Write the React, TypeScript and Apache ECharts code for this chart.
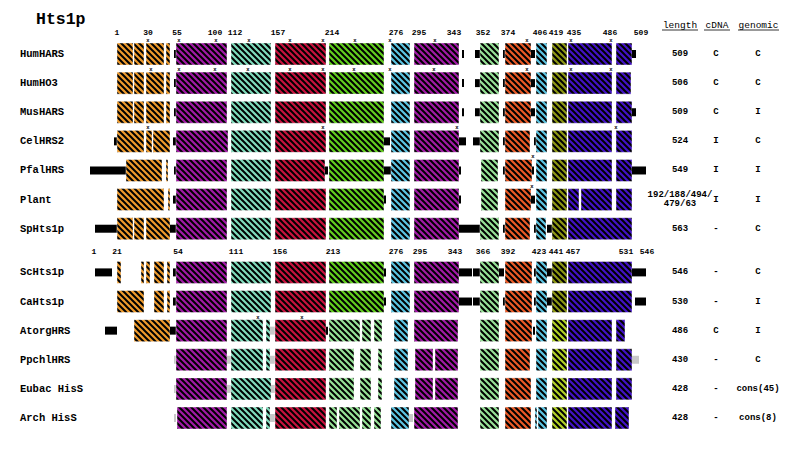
import React, { useEffect, useRef } from "react";
import * as echarts from "echarts";

// ---------- data ----------
const rowNames = ["HumHARS", "HumHO3", "MusHARS", "CelHRS2", "PfalHRS", "Plant", "SpHts1p", "ScHts1p", "CaHts1p", "AtorgHRS", "PpchlHRS", "Eubac HisS", "Arch HisS"];
const rowPos = [0, 1, 2, 3, 4, 5, 6, 7.5, 8.5, 9.5, 10.5, 11.5, 12.5];
const lengths = ["509", "506", "509", "524", "549", "192/188/494/\n479/63", "563", "546", "530", "486", "430", "428", "428"];
const cdna = ["C", "C", "C", "I", "I", "I", "-", "-", "-", "C", "-", "-", "-"];
const genomic = ["C", "C", "I", "C", "I", "I", "C", "C", "I", "I", "C", "cons(45)", "cons(8)"];

// alignment positions of the residue-number labels
const topTickPos = [117, 148, 177, 215, 235, 278, 332, 396, 419, 454, 483, 508, 540, 556, 574, 610, 641];
const topTickLabels = ["1", "30", "55", "100", "112", "157", "214", "276", "295", "343", "352", "374", "406", "419", "435", "486", "509"];
const botTickPos = [94, 117, 178, 236, 280, 333, 396, 420, 455, 483, 508, 539, 556, 573, 626, 647];
const botTickLabels = ["1", "21", "54", "111", "156", "213", "276", "295", "343", "366", "392", "423", "441", "457", "531", "546"];

// domain kinds: O orange, P purple, T teal, R red, G green, C cyan, L light green,
// E orange-red, V olive, Y lime, B blue, K black linker, S gray linker
type Seg = [number, number, string];
const segHumHARS: Seg[] = [[117,133,"O"],[134,144,"O"],[146,164,"O"],[166,170,"O"],[174,176,"K"],[176,227,"P"],[231,271,"T"],[275,326,"R"],[329,384,"G"],[391,410,"C"],[414,459,"P"],[462,464,"K"],[475,480,"K"],[480,499,"L"],[503,505,"K"],[505,531,"E"],[531,535,"K"],[536,547,"C"],[552,567,"V"],[568,612,"B"],[616,632,"B"],[632,636,"K"]];
const segHumHO3: Seg[] = [[117,133,"O"],[134,144,"O"],[146,164,"O"],[166,170,"O"],[174,176,"K"],[176,227,"P"],[231,271,"T"],[275,326,"R"],[329,384,"G"],[391,410,"C"],[414,459,"P"],[462,464,"K"],[475,480,"K"],[480,499,"L"],[503,505,"K"],[505,531,"E"],[531,535,"K"],[536,547,"C"],[552,567,"V"],[568,612,"B"],[616,631,"B"]];
const segMusHARS: Seg[] = [[117,133,"O"],[134,144,"O"],[146,164,"O"],[166,170,"O"],[174,176,"K"],[176,227,"P"],[231,271,"T"],[275,326,"R"],[329,384,"G"],[391,410,"C"],[414,459,"P"],[462,464,"K"],[475,480,"K"],[480,499,"L"],[503,505,"K"],[505,531,"E"],[531,535,"K"],[536,547,"C"],[552,567,"V"],[568,612,"B"],[616,632,"B"],[632,636,"K"]];
const segCelHRS2: Seg[] = [[114,117,"K"],[117,144,"O"],[146,152,"O"],[153,170,"O"],[173,176,"K"],[176,228,"P"],[231,271,"T"],[275,326,"R"],[329,384,"G"],[384,390,"K"],[391,410,"C"],[414,459,"P"],[459,466,"K"],[473,480,"K"],[480,499,"L"],[503,505,"K"],[505,530,"E"],[534,536,"K"],[536,547,"C"],[552,567,"V"],[568,612,"B"],[616,632,"B"]];
const segPfalHRS: Seg[] = [[90,126,"K"],[126,162,"O"],[166,168,"O"],[174,176,"K"],[176,227,"P"],[231,271,"T"],[275,325,"R"],[325,328,"K"],[329,384,"G"],[384,391,"K"],[391,410,"C"],[414,459,"P"],[459,461,"K"],[481,498,"L"],[503,505,"K"],[505,532,"E"],[532,534,"K"],[536,547,"C"],[552,567,"V"],[568,612,"B"],[616,632,"B"],[632,646,"K"]];
const segPlant: Seg[] = [[117,164,"O"],[168,170,"O"],[173,176,"K"],[176,227,"P"],[231,271,"T"],[275,326,"R"],[329,384,"G"],[384,386,"K"],[391,410,"C"],[414,459,"P"],[459,461,"K"],[481,498,"L"],[505,531,"E"],[531,535,"K"],[536,547,"C"],[552,567,"V"],[568,579,"B"],[581,612,"B"],[616,632,"B"]];
const segSpHts1p: Seg[] = [[95,117,"K"],[117,133,"O"],[134,144,"O"],[146,170,"O"],[170,176,"K"],[176,227,"P"],[231,271,"T"],[275,326,"R"],[329,384,"G"],[391,410,"C"],[414,459,"P"],[459,480,"K"],[480,499,"L"],[503,505,"K"],[505,530,"E"],[534,536,"K"],[536,546,"C"],[547,552,"K"],[552,567,"V"],[568,632,"B"]];
const segScHts1p: Seg[] = [[95,112,"K"],[117,121,"O"],[141,144,"O"],[146,150,"O"],[154,164,"O"],[167,170,"O"],[173,176,"K"],[176,227,"P"],[231,271,"T"],[275,326,"R"],[329,384,"G"],[384,386,"K"],[391,410,"C"],[414,459,"P"],[459,472,"K"],[473,480,"K"],[480,499,"L"],[499,504,"K"],[505,532,"E"],[534,536,"K"],[536,547,"C"],[547,552,"K"],[552,567,"V"],[568,632,"B"],[632,646,"K"]];
const segCaHts1p: Seg[] = [[117,144,"O"],[154,164,"O"],[167,170,"O"],[173,176,"K"],[176,227,"P"],[231,271,"T"],[275,326,"R"],[329,384,"G"],[384,386,"K"],[391,410,"C"],[414,459,"P"],[459,472,"K"],[473,480,"K"],[480,499,"L"],[503,505,"K"],[505,532,"E"],[534,536,"K"],[536,547,"C"],[547,552,"K"],[552,567,"V"],[568,632,"B"],[635,646,"K"]];
const segAtorgHRS: Seg[] = [[105,117,"K"],[134,170,"O"],[170,176,"K"],[176,227,"P"],[231,263,"T"],[266,270,"T"],[270,275,"S"],[275,326,"R"],[326,328,"K"],[329,360,"L"],[362,371,"L"],[374,382,"L"],[394,408,"C"],[414,458,"P"],[480,499,"L"],[505,532,"E"],[533,535,"K"],[536,547,"C"],[552,567,"Y"],[568,612,"B"],[616,625,"B"]];
const segPpchlHRS: Seg[] = [[174,176,"S"],[176,227,"P"],[227,231,"S"],[231,263,"T"],[266,270,"T"],[270,275,"S"],[275,326,"R"],[329,354,"L"],[360,371,"L"],[378,382,"L"],[394,408,"C"],[415,433,"P"],[435,458,"P"],[480,499,"L"],[505,530,"E"],[536,547,"C"],[552,567,"Y"],[568,612,"B"],[616,632,"B"],[632,639,"S"]];
const segEubac: Seg[] = [[174,176,"S"],[176,227,"P"],[227,231,"S"],[231,271,"T"],[271,275,"S"],[275,326,"R"],[329,354,"L"],[360,371,"L"],[378,382,"L"],[394,408,"C"],[415,433,"P"],[435,458,"P"],[480,499,"L"],[505,531,"E"],[536,547,"C"],[552,567,"Y"],[568,612,"B"],[616,632,"B"]];
const segArch: Seg[] = [[174,176,"S"],[177,227,"P"],[231,263,"T"],[266,270,"T"],[270,275,"S"],[275,326,"R"],[329,337,"L"],[339,360,"L"],[362,371,"L"],[374,381,"L"],[391,409,"C"],[409,413,"S"],[414,458,"P"],[480,499,"L"],[505,531,"E"],[535,537,"C"],[538,547,"C"],[552,567,"Y"],[568,612,"B"],[615,629,"B"]];
const rowSegments: Seg[][] = [segHumHARS, segHumHO3, segMusHARS, segCelHRS2, segPfalHRS, segPlant, segSpHts1p, segScHts1p, segCaHts1p, segAtorgHRS, segPpchlHRS, segEubac, segArch];

// small "x" markers above the boxes: [alignment position, row index]
const markers: [number, number][] = [
  [148,0],[179,0],[216,0],[249,0],[290,0],[323,0],[355,0],[390,0],[435,0],[527,0],[571,0],[611,0],
  [151,1],[179,1],[215,1],[248,1],[290,1],[323,1],[354,1],[390,1],[434,1],[527,1],[571,1],[611,1],
  [148,3],[323,3],[457,3],[616,3],
  [533,4],[532,5],
  [258,9],[302,9],
];

// ---------- styles ----------
const kindColors: Record<string, string> = {
  O: "#ee9a2c", P: "#a11aa6", T: "#7fdcbc", R: "#c8123e", G: "#62cf1e", C: "#5cc4e2",
  L: "#96e296", E: "#ea5a26", V: "#8e9814", Y: "#b2d226", B: "#4212c4", K: "#000000", S: "#c8c8c8",
};
const MONO = "'Courier New', 'Liberation Mono', monospace";
const TOP_TICK_ROW = -0.74;
const BOT_TICK_ROW = 6.78;
const NAME_X = 20, LEN_X = 680, CDNA_X = 716, GEN_X = 758;

function makePattern(color: string) {
  const c = document.createElement("canvas");
  const s = 6;
  c.width = s; c.height = s;
  const ctx = c.getContext("2d")!;
  ctx.fillStyle = color;
  ctx.fillRect(0, 0, s, s);
  ctx.strokeStyle = "#000";
  ctx.lineWidth = 2;
  ctx.beginPath();
  for (const k of [-s, 0, s]) {
    ctx.moveTo(k - 2, -2);
    ctx.lineTo(k + s + 2, s + 2);
  }
  ctx.stroke();
  return { image: c, repeat: "repeat" as const };
}

export default function App() {
  const ref = useRef<HTMLDivElement>(null);
  useEffect(() => {
    document.body.style.margin = "0";
    if (!ref.current) return;
    const chart = echarts.init(ref.current, null, { renderer: "svg" });
    const kinds = Object.keys(kindColors);
    const patterns: Record<string, any> = {};
    kinds.forEach((k) => { if (k !== "K" && k !== "S") patterns[k] = makePattern(kindColors[k]); });

    const segData: number[][] = [];
    rowSegments.forEach((segs, r) => segs.forEach((s) => segData.push([s[0], s[1], rowPos[r], kinds.indexOf(s[2])])));

    const textSeries = (name: string, points: number[][], texts: string[], font: string, align: string, dy = 0) => ({
      type: "custom", name, silent: true, data: points,
      renderItem: (params: any, api: any) => {
        const p = api.coord([api.value(0), api.value(1)]);
        return { type: "text", x: p[0], y: p[1] + dy, style: { text: texts[params.dataIndex], font, fill: "#000", align, verticalAlign: "middle" } };
      },
    });

    chart.setOption({
      animation: false,
      grid: { left: 0, right: 0, top: 10.32, height: 436.8 },
      xAxis: { type: "value", min: 0, max: 800, show: false },
      yAxis: { type: "value", min: -1.5, max: 13.5, inverse: true, show: false },
      graphic: [
        { type: "text", left: 36, top: 11, style: { text: "Hts1p", font: `bold 16.5px ${MONO}`, fill: "#000" } },
        { type: "text", x: 680, y: 25, style: { text: "length", font: `9.5px ${MONO}`, fill: "#000", align: "center", verticalAlign: "middle" } },
        { type: "text", x: 717, y: 25, style: { text: "cDNA", font: `9.5px ${MONO}`, fill: "#000", align: "center", verticalAlign: "middle" } },
        { type: "text", x: 758.5, y: 25, style: { text: "genomic", font: `9.5px ${MONO}`, fill: "#000", align: "center", verticalAlign: "middle" } },
        { type: "line", shape: { x1: 662, y1: 30, x2: 698, y2: 30 }, style: { stroke: "#000", lineWidth: 0.8 } },
        { type: "line", shape: { x1: 704, y1: 30, x2: 730, y2: 30 }, style: { stroke: "#000", lineWidth: 0.8 } },
        { type: "line", shape: { x1: 738, y1: 30, x2: 779, y2: 30 }, style: { stroke: "#000", lineWidth: 0.8 } },
      ],
      series: [
        {
          type: "custom", name: "domains", silent: true, data: segData,
          renderItem: (params: any, api: any) => {
            const row = api.value(2);
            const a = api.coord([api.value(0), row]);
            const b = api.coord([api.value(1), row]);
            const kind = kinds[api.value(3)];
            if (kind === "K" || kind === "S") {
              const h = 8;
              return { type: "rect", shape: { x: a[0], y: a[1] - h / 2, width: b[0] - a[0], height: h }, style: { fill: kindColors[kind] } };
            }
            const h = 22;
            return {
              type: "rect",
              shape: { x: a[0], y: a[1] - h / 2, width: b[0] - a[0], height: h },
              style: { fill: patterns[kind], stroke: "rgba(255,255,255,0.55)", lineWidth: 0.8 },
            };
          },
        },
        textSeries("names", rowPos.map((p) => [NAME_X, p]), rowNames, `bold 10.5px ${MONO}`, "left"),
        textSeries("lengths", rowPos.map((p) => [LEN_X, p]), lengths, `bold 9px ${MONO}`, "center"),
        textSeries("cdna", rowPos.map((p) => [CDNA_X, p]), cdna, `bold 9px ${MONO}`, "center"),
        textSeries("genomic", rowPos.map((p) => [GEN_X, p]), genomic, `bold 9px ${MONO}`, "center"),
        textSeries("topTicks", topTickPos.map((x) => [x, TOP_TICK_ROW]), topTickLabels, `bold 8px ${MONO}`, "center"),
        textSeries("botTicks", botTickPos.map((x) => [x, BOT_TICK_ROW]), botTickLabels, `bold 8px ${MONO}`, "center"),
        textSeries("markers", markers.map((m) => [m[0], rowPos[m[1]]]), markers.map(() => "x"), `bold 5.5px ${MONO}`, "center", -13.5),
      ],
    });
    return () => chart.dispose();
  }, []);
  return <div ref={ref} style={{ width: 800, height: 455 }} />;
}
